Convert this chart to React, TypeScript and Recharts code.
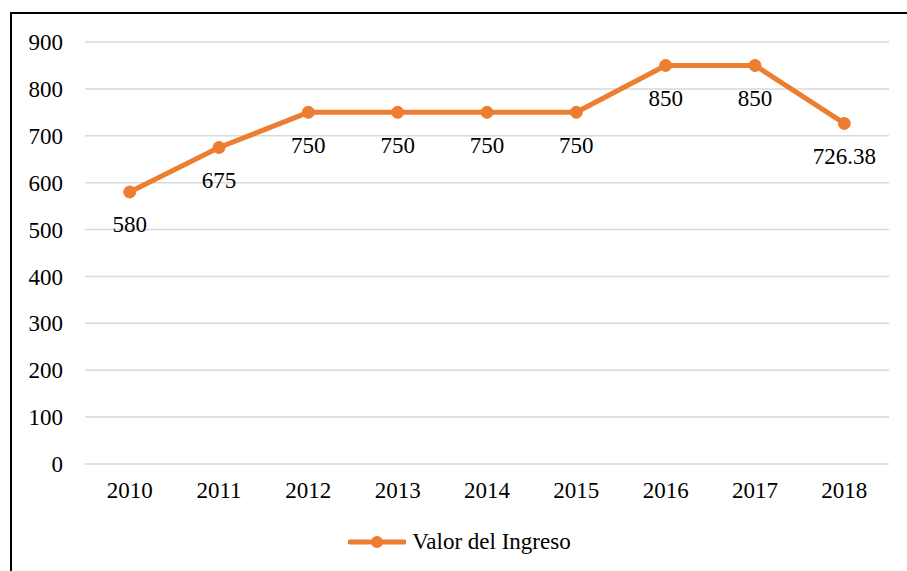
import { CartesianGrid, LabelList, Legend, Line, LineChart, XAxis, YAxis } from "recharts"

const years = ["2010", "2011", "2012", "2013", "2014", "2015", "2016", "2017", "2018"]
const ingreso = [580, 675, 750, 750, 750, 750, 850, 850, 726.38]
const yTicks = [0, 100, 200, 300, 400, 500, 600, 700, 800, 900]

const data = years.map((year, i) => ({ year, ingreso: ingreso[i] }))

const ORANGE = "#ED7D31"
const FONT = "Times New Roman, Liberation Serif, DejaVu Serif, serif"
const FS = 23

const LegendContent = () => (
  <div style={{ display: "flex", justifyContent: "center", alignItems: "center", fontFamily: FONT, fontSize: FS, color: "#000" }}>
    <svg width={58} height={14} style={{ marginRight: 6 }}>
      <line x1={2} y1={7} x2={56} y2={7} stroke={ORANGE} strokeWidth={5} strokeLinecap="round" />
      <circle cx={29} cy={7} r={6} fill={ORANGE} />
    </svg>
    <span>Valor del Ingreso</span>
  </div>
)

export default function App() {
  return (
    <div
      style={{
        position: "absolute",
        left: 10,
        top: 12,
        width: 895,
        height: 557,
        borderTop: "2px solid #000",
        borderLeft: "2px solid #000",
        background: "#fff",
        fontFamily: FONT,
      }}
    >
      <LineChart width={895} height={557} data={data} margin={{ top: 28, right: 18, left: 0, bottom: 51 }}>
        <CartesianGrid stroke="#d9d9d9" strokeWidth={1.5} vertical={false} />
        <XAxis
          dataKey="year"
          axisLine={false}
          tickLine={false}
          tickSize={0}
          tickMargin={18}
          padding={{ left: 44.7, right: 44.7 }}
          tick={{ fill: "#000", fontSize: FS, fontFamily: FONT }}
          interval={0}
        />
        <YAxis
          width={73}
          domain={[0, 900]}
          ticks={yTicks}
          axisLine={false}
          tickLine={false}
          tickSize={0}
          tickMargin={22}
          tick={{ fill: "#000", fontSize: FS, fontFamily: FONT }}
        />
        <Legend
          verticalAlign="bottom"
          content={<LegendContent />}
          wrapperStyle={{ left: 0, width: 895, top: 515, bottom: "auto" }}
        />
        <Line
          type="linear"
          dataKey="ingreso"
          name="Valor del Ingreso"
          stroke={ORANGE}
          strokeWidth={5}
          strokeLinejoin="round"
          dot={{ r: 6, fill: ORANGE, stroke: ORANGE, strokeWidth: 1 }}
          isAnimationActive={false}
        >
          <LabelList dataKey="ingreso" position="bottom" offset={24} fill="#000" fontSize={FS} fontFamily={FONT} />
        </Line>
      </LineChart>
    </div>
  )
}
